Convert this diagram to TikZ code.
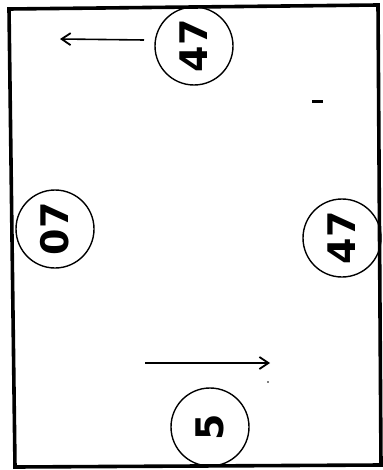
\documentclass[tikz,border=0pt]{standalone}
\usepackage{fontspec}
\setmainfont{DejaVu Sans}
\usetikzlibrary{arrows.meta}
\begin{document}
\begin{tikzpicture}[x={(1pt,0)},y={(0,-1pt)},
  wall/.style={line width=3.6pt, line join=miter},
  seat/.style={circle, draw, line width=1.4pt, minimum size=78pt, inner sep=0pt,
    font=\fontsize{38}{38}\selectfont\bfseries},
  dirarrow/.style={line width=1.6pt, -{Straight Barb[length=9pt,width=12pt,line width=1.8pt]}},
  smalltick/.style={line width=3pt}
]
\useasboundingbox (0,0) rectangle (382,470);
% walls
\draw[wall] (9,9) -- (378,5) -- (381,465) -- (15,467) -- cycle;
% seats
\node[seat, rotate=90] (top) at (194,46) {47};
\node[seat, rotate=90] (left) at (55,229) {07};
\node[seat, rotate=90] (right) at (342,238) {47};
\node[seat, rotate=90] (bottom) at (210,427) {5};
% arrows
\coordinate (ta) at (144,40);
\coordinate (tb) at (60,39);
\draw[dirarrow] (ta) -- (tb);
\coordinate (ba) at (145,363);
\coordinate (bb) at (270,363);
\draw[dirarrow] (ba) -- (bb);
% small marks
\coordinate (m1) at (312,102);
\coordinate (m2) at (323,102);
\draw[smalltick] (m1) -- (m2);
\fill (268,382) circle (0.8pt);
\end{tikzpicture}
\end{document}
